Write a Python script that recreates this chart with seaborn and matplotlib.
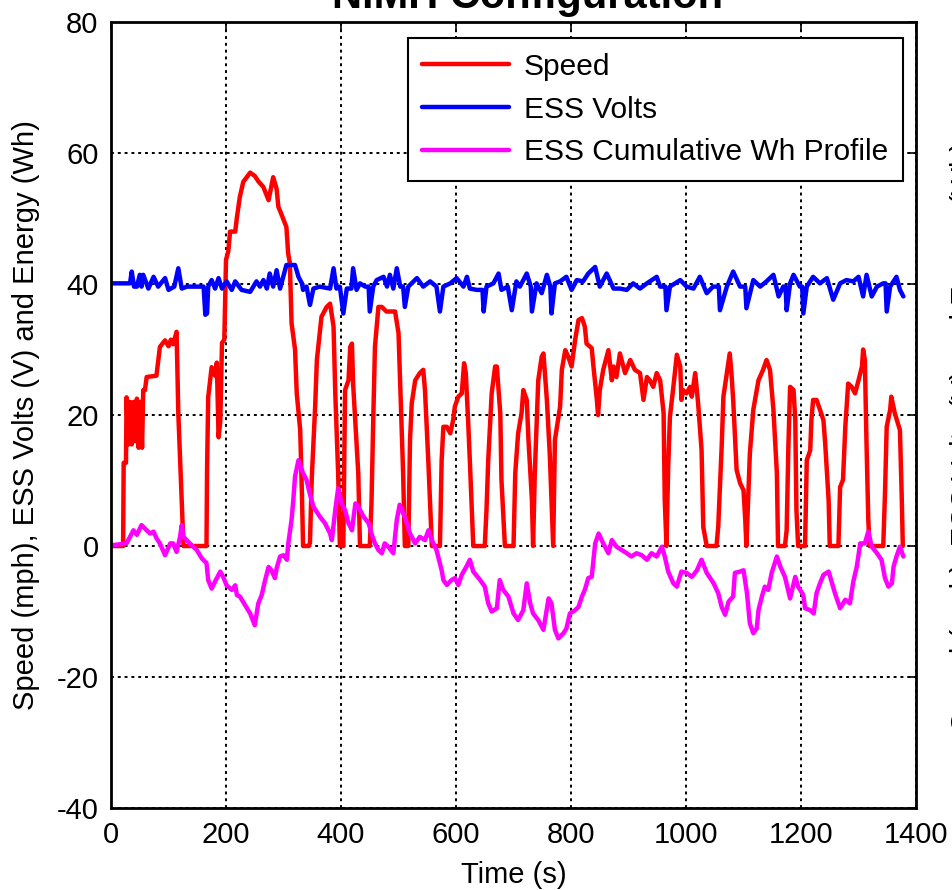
import numpy as np
import pandas as pd
import seaborn as sns
import matplotlib
matplotlib.use('Agg')
import matplotlib.pyplot as plt

# --- data (time in s) ---
speed_t = [0, 21, 22, 26, 27, 30, 33, 36, 39, 42, 45, 48, 51, 54, 56, 59, 62, 79, 85, 94, 100, 104, 108, 114,
           117, 123, 126, 166, 167, 169, 175, 181, 184, 187, 190, 193, 197, 200, 204, 207, 216, 219, 224, 230,
           242, 250, 256, 265, 274, 279, 282, 288, 291, 297, 305, 308, 311, 314, 320, 323, 329, 332, 334, 344,
           346, 349, 355, 358, 366, 375, 381, 387, 390, 395, 398, 401, 404, 407, 413, 416, 419, 421, 430, 433,
           450, 453, 456, 459, 465, 471, 479, 494, 500, 503, 508, 511, 517, 520, 523, 529, 537, 543, 546, 552,
           558, 572, 575, 578, 584, 590, 595, 598, 604, 610, 614, 617, 621, 624, 630, 650, 653, 656, 662, 668,
           671, 677, 679, 685, 700, 703, 708, 714, 717, 723, 726, 732, 734, 737, 743, 749, 752, 758, 763, 769,
           772, 781, 784, 790, 795, 801, 807, 813, 819, 824, 827, 836, 839, 845, 847, 850, 856, 865, 871, 874,
           879, 885, 894, 903, 911, 920, 926, 932, 937, 943, 949, 955, 961, 963, 966, 969, 972, 978, 984, 990,
           992, 995, 1001, 1007, 1010, 1016, 1021, 1027, 1030, 1036, 1053, 1056, 1062, 1065, 1071, 1076, 1079,
           1082, 1088, 1094, 1100, 1103, 1105, 1108, 1111, 1117, 1126, 1134, 1140, 1146, 1152, 1158, 1160,
           1172, 1175, 1178, 1181, 1187, 1190, 1192, 1195, 1207, 1210, 1216, 1218, 1221, 1227, 1233, 1239,
           1242, 1248, 1250, 1265, 1268, 1273, 1277, 1282, 1288, 1294, 1300, 1306, 1308, 1311, 1314, 1317,
           1319, 1343, 1346, 1349, 1355, 1357, 1363, 1372, 1375, 1377]
speed_v = [0, 0, 12.7, 12.7, 22.7, 15.5, 22, 15.5, 22, 16, 22.5, 15, 22, 15, 23.8, 23.8, 25.8, 26, 30.4, 31.4,
           30.5, 31.5, 30.8, 32.7, 20.3, 7, 0, 0, 11.6, 22.7, 27.3, 26, 28, 16.6, 19, 31, 31.5, 43.7, 45, 48,
           48, 50.2, 53.3, 55.6, 57, 56.5, 55.7, 54.8, 52.8, 55, 56.3, 54.5, 51.8, 50.5, 48.7, 44.7, 43.2, 34,
           30, 23.3, 17.7, 8, 0, 0,
           0.5, 10.1, 21.3, 28.4, 35, 36.5, 37, 33.5, 23.3, 11.1, 0, 0, 0, 23.8, 25.3, 30.4, 30.9, 24.8, 11.1, 0,
           0, 6.6, 19.2, 30.4, 36.5, 36.5, 35.8, 35.8, 32.5, 24.3, 11.1, 0, 0, 16.2, 21.8, 25.3, 26.4, 26.9,
           23.8, 12.6, 0, 0, 13.1, 18.2, 18.2, 17.2, 19.2, 21.3, 22.8, 23.3, 27.9, 26.4, 19.2, 13.1, 0, 0, 5.5,
           13.1, 23.3, 27.4, 27.4, 20.2, 10.1, 0, 0, 11.1, 17.2, 20.3, 23.8, 22.3, 16.2, 7, 0, 11.1, 25.3, 28.9,
           29.4, 22.3, 14.1, 0, 16.2, 21.3, 26.9, 29.9, 28.9, 27.4, 31.4, 34.5, 34.8, 33.5, 30.9, 30.2, 27.4,
           22.3, 20, 23.8, 26.9, 29.9, 25.3, 27.4, 25.8, 29.4, 26.4, 28.4, 26.9, 26.4, 22.3, 25.8, 25.3, 24.3,
           26.4, 25.3, 20.3, 7, 0, 12.1, 19.7, 24.3, 29.2, 27.4, 22.3, 23.8, 23.3, 24.3, 22.8, 26.4, 21.8, 14.7,
           2.9, 0, 0, 2.95, 15.2, 22.8, 26.4, 29.4, 26.4, 22.3, 11.6, 9.6, 8.5, 4, 0, 7, 14.1, 20.8, 25.3, 26.9,
           28.4, 26.9, 20.8, 11.1, 0, 0, 2.4, 15.2, 24.3, 23.8, 19.2, 5.5, 0, 0, 13.1, 14.6, 19.2, 22.3, 22.3,
           20.8, 19.2, 15.7, 7, 0, 0, 9, 10.1, 18.2, 24.8, 24.3, 23.3, 25.3, 27.4, 30, 28.4, 15.2, 4, 0, 0, 8,
           18.2, 20.8, 22.8, 20.3, 17.7, 8, 0]

volts_t = [0, 33, 36, 40, 45, 50, 53, 56, 65, 74, 82, 94, 100, 110, 117, 123, 132, 149, 161, 164, 167, 169,
           175, 181, 187, 193, 201, 210, 216, 227, 242, 253, 259, 265, 271, 276, 282, 288, 294, 305, 320, 326,
           332, 334, 340, 346, 352, 363, 381, 387, 392, 398, 404, 410, 418, 421, 427, 433, 442, 448, 450, 456,
           462, 474, 480, 485, 491, 497, 503, 508, 511, 517, 532, 543, 555, 566, 572, 578, 590, 601, 613, 619,
           624, 636, 646, 648, 653, 665, 674, 679, 690, 697, 705, 711, 723, 730, 732, 740, 749, 758, 764, 766,
           772, 781, 792, 801, 810, 821, 830, 842, 850, 862, 874, 885, 897, 908, 920, 932, 949, 955, 964, 966,
           972, 990, 1001, 1013, 1024, 1036, 1047, 1057, 1059, 1071, 1082, 1094, 1103, 1105, 1117, 1129, 1140,
           1152, 1161, 1169, 1173, 1175, 1181, 1187, 1198, 1202, 1204, 1210, 1221, 1233, 1245, 1256, 1268,
           1279, 1291, 1300, 1308, 1314, 1323, 1332, 1343, 1347, 1349, 1355, 1366, 1372, 1378]
volts_v = [40.1, 40.1, 41.9, 39.6, 39.6, 41.4, 39.6, 41.4, 39.3, 41.1, 39.6, 40.9, 39.1, 39.6, 42.4, 39.3,
           39.6, 39.6, 39.6, 35.3, 35.5, 39.6, 40.6, 39.3, 40.9, 39.3, 40.4, 39.1, 40.4, 39.1, 38.8, 40.4, 39.6,
           40.6, 39.3, 41.6, 39.6, 42.1, 39.3, 42.9, 42.9, 41.1, 40.1, 39.1, 39.6, 36.8, 39.3, 39.6, 39.3, 42.4,
           39.3, 39.6, 35.5, 39.3, 39.3, 42.4, 39.1, 40.1, 39.6, 39.6, 35.8, 39.6, 40.6, 41.1, 39.6, 41.4, 39.3,
           42.4, 39.6, 39.6, 36.5, 39.6, 40.9, 39.6, 40.4, 39.6, 35.8, 39.6, 40.1, 40.9, 39.6, 41.1, 39.3, 39.1,
           39.1, 35.8, 39.6, 40.1, 41.6, 39.1, 39.6, 36.0, 40.4, 39.6, 41.6, 39.6, 35.8, 40.1, 38.6, 41.4, 39.6,
           35.5, 40.1, 40.4, 41.1, 39.1, 40.6, 40.4, 41.6, 42.6, 39.6, 41.6, 39.3, 39.3, 39.1, 40.1, 39.3, 40.1,
           41.1, 39.6, 39.6, 36.0, 39.6, 40.6, 39.6, 39.3, 41.1, 38.6, 39.6, 39.6, 36.0, 39.6, 41.9, 39.6, 39.6,
           36.3, 40.6, 39.6, 40.4, 41.4, 38.1, 39.6, 39.6, 36.0, 40.1, 41.4, 39.6, 39.6, 35.5, 39.6, 41.1, 40.1,
           40.9, 37.6, 40.1, 40.6, 40.4, 41.1, 38.1, 41.4, 38.1, 39.6, 40.1, 40.1, 35.8, 39.6, 41.1, 39.1, 38.1]

energy_t = [0, 27, 39, 45, 53, 62, 68, 74, 79, 85, 94, 103, 108, 114, 120, 123, 126, 137, 149, 158, 166, 169,
            175, 181, 190, 195, 201, 210, 216, 219, 224, 233, 242, 250, 256, 262, 268, 274, 279, 285, 288, 294,
            300, 306, 308, 314, 317, 320, 326, 334, 340, 346, 352, 363, 372, 381, 384, 390, 395, 401, 407, 413,
            419, 425, 430, 439, 448, 453, 459, 465, 471, 476, 482, 491, 497, 502, 511, 520, 529, 537, 546, 552,
            558, 566, 575, 578, 584, 592, 598, 604, 610, 618, 624, 630, 642, 650, 656, 662, 671, 676, 682, 691,
            700, 708, 717, 723, 729, 734, 743, 752, 761, 766, 772, 778, 787, 792, 798, 807, 813, 819, 824, 830,
            836, 842, 848, 856, 865, 871, 879, 888, 897, 905, 914, 923, 932, 940, 949, 958, 963, 969, 978, 984,
            992, 1001, 1010, 1013, 1019, 1027, 1036, 1048, 1056, 1062, 1068, 1074, 1082, 1085, 1094, 1100,
            1106, 1111, 1117, 1123, 1126, 1132, 1137, 1143, 1149, 1158, 1164, 1172, 1181, 1190, 1195, 1204,
            1207, 1216, 1222, 1227, 1233, 1239, 1248, 1253, 1259, 1265, 1268, 1277, 1285, 1291, 1297, 1303,
            1311, 1317, 1323, 1332, 1340, 1346, 1352, 1358, 1361, 1366, 1372, 1378]
energy_v = [0.1, 0.4, 2.4, 1.7, 3.2, 2.4, 1.9, 2.2, 1.2, 0.4, -1.4, 0.4, 0.4, -0.9, 1.4, 3.2, 1.4, 0.4, -0.6,
            -1.9, -2.6, -5.2, -6.5, -5.4, -3.9, -4.7, -6.0, -6.7, -6.0, -7.5, -7.7, -9.0, -10.3, -12.1, -8.8,
            -7.5, -5.2, -3.2, -3.7, -4.9, -3.4, -1.6, -1.4, -2.1, 0.2, 4.0, 7.0, 10.6, 13.1, 11.1, 10.1, 7.9, 6.0,
            4.5, 3.5, 1.9, 0.9, 5.5, 8.8, 6.5, 5.5, 3.5, 2.4, 6.5, 6.0, 4.5, 3.5, 1.9, 0.4, -0.6, -1.1, 0.4, -0.1,
            -1.1, 4.0, 6.3, 4.4, 1.9, 0.4, 1.4, 0.9, 2.4, 0.9, -0.6, -3.7, -5.2, -5.95, -5.2, -4.9, -5.95, -4.4,
            -3.15, -2.1, -3.9, -5.2, -6.2, -8.75, -10.0, -9.5, -5.2, -6.7, -7.7, -10.3, -11.3, -9.8, -5.7, -8.75,
            -10.3, -11.3, -12.8, -8.0, -8.75, -12.8, -14.1, -13.3, -12.6, -10.3, -9.8, -9.3, -7.7, -6.7, -4.9,
            -4.7, 0.4, 1.9, 0.4, -1.1, 0.9, -0.1, -0.6, -1.1, -1.6, -1.1, -1.4, -2.1, -1.1, -1.6, -0.1, -1.6,
            -3.9, -5.7, -6.2, -3.9, -4.1, -4.7, -4.4, -3.7, -2.1, -4.1, -5.7, -7.2, -9.3, -10.5, -8.5, -7.7, -4.1,
            -3.9, -3.7, -7.2, -11.8, -13.3, -12.6, -9.8, -7.7, -6.2, -6.7, -4.1, -1.6, -3.15, -4.7, -8.0, -4.7,
            -6.2, -7.5, -9.5, -9.8, -10.3, -7.2, -5.7, -4.4, -3.9, -5.4, -7.2, -8.75, -9.5, -8.2, -8.75, -5.4,
            -3.15, 0.4, 0.4, 2.2, -0.1, -1.1, -2.1, -4.9, -6.2, -5.7, -3.15, -1.6, -0.1, -1.6]

series_names = ['Speed', 'ESS Volts', 'ESS Cumulative Wh Profile']
series_colors = ['#ff0000', '#0000ff', '#ff00ff']

df = pd.concat([
    pd.DataFrame({'t': speed_t, 'v': speed_v, 'series': series_names[0]}),
    pd.DataFrame({'t': volts_t, 'v': volts_v, 'series': series_names[1]}),
    pd.DataFrame({'t': energy_t, 'v': energy_v, 'series': series_names[2]}),
], ignore_index=True)

sns.set_style('white')
plt.rcParams['font.family'] = ['Liberation Sans', 'DejaVu Sans']
plt.rcParams['axes.unicode_minus'] = False
plt.rcParams['text.color'] = 'black'
plt.rcParams['axes.labelcolor'] = 'black'

fig = plt.figure(figsize=(9.53, 8.9), dpi=100)
ax = fig.add_axes([0.1165, 0.0921, 0.8447, 0.8832])

sns.lineplot(data=df, x='t', y='v', hue='series', hue_order=series_names,
             palette=series_colors, sort=False, estimator=None, linewidth=3.2, ax=ax)

ax.set_xlim(0, 1400)
ax.set_ylim(-40, 80)
ax.set_xticks(range(0, 1401, 200))
ax.set_yticks(range(-40, 81, 20))
ax.grid(True, color='black', linestyle=(0, (1.5, 2)), linewidth=1.4)
for s in ax.spines.values():
    s.set_color('black')
    s.set_linewidth(2)
ax.tick_params(direction='in', length=6, width=1.2, top=True, right=True,
               labelsize=21, colors='black', pad=9)

ax.set_xlabel('Time (s)', fontsize=21, labelpad=9, color='black')
ax.set_ylabel('Speed (mph), ESS Volts (V) and Energy (Wh)', fontsize=21, labelpad=12, color='black')
ax.set_title('NiMH Configuration', fontsize=30, fontweight='bold', x=0.518, pad=10, color='black')

leg = ax.legend(loc='upper right', bbox_to_anchor=(0.984, 0.98), fontsize=21.5,
                frameon=True, fancybox=False, handlelength=2.9, handletextpad=0.5,
                labelspacing=0.5, borderpad=0.5, borderaxespad=0)
leg.get_frame().set_edgecolor('black')
leg.get_frame().set_linewidth(1.5)
leg.get_frame().set_alpha(1)
for line in leg.get_lines():
    line.set_linewidth(3.2)
for txt in leg.get_texts():
    txt.set_color('black')

# neighbouring panel's label, mostly cut off at the right edge
fig.text(0.9965, 0.51, 'Speed (mph), ESS Volts (V) and Energy (Wh)', rotation=90,
         fontsize=21, ha='left', va='center', color='black')

fig.savefig('out.png', dpi=100)
